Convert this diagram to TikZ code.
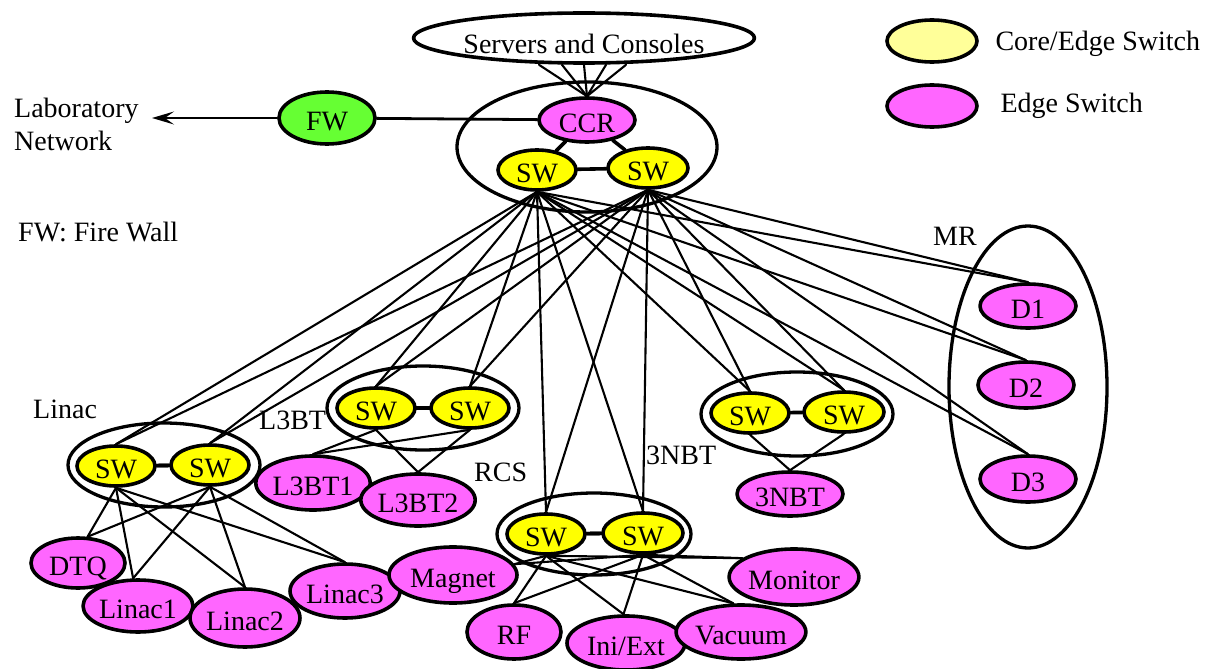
\documentclass[tikz,border=0pt]{standalone}
\usepackage{fontspec}
\setmainfont{Liberation Serif}
\newfontfamily\netfont{Liberation Serif}
\usetikzlibrary{shapes.geometric,arrows.meta}
\definecolor{swyellow}{HTML}{FFFF00}
\definecolor{legyellow}{HTML}{FFFF99}
\definecolor{edgepink}{HTML}{FF66FF}
\definecolor{fwgreen}{HTML}{66FF33}
\tikzset{
  elli/.style={ellipse, draw, line width=3.6pt, inner sep=0pt, text height=25pt, text depth=0pt},
  sw/.style={elli, fill=swyellow, minimum width=78pt, minimum height=40pt},
  pink/.style={elli, fill=edgepink},
  grp/.style={elli, line width=3.3pt},
  link/.style={line width=2.1pt},
  thick link/.style={line width=3.6pt},
}
\begin{document}
\begin{tikzpicture}[x=1pt, y=-1pt, font=\netfont\fontsize{28}{33}\selectfont, line join=round, line cap=round]
  \useasboundingbox (0,0) rectangle (1208,669);
  % legend
  \node[elli, fill=legyellow, minimum width=90pt, minimum height=42pt] (legCore) at (932,41) {};
  \node[pink, minimum width=90pt, minimum height=42pt] (legEdge) at (932,106) {};
  \node[anchor=west] (legCoreTxt) at (992,44) {Core/Edge Switch};
  \node[anchor=west] (legEdgeTxt) at (997,106) {Edge Switch};
  % texts
  \node[anchor=west, align=left, inner sep=0pt] (labnet) at (14,124) {Laboratory\\Network};
  \coordinate (labnetEnd) at (152,118);
  \node[anchor=west, inner sep=0pt] (fwnote) at (18,232) {FW: Fire Wall};
  \node[anchor=west, inner sep=0pt] (linacLbl) at (33,409) {Linac};
  \node[anchor=west, inner sep=0pt] (l3btLbl) at (259,420) {L3BT};
  \node[anchor=west, inner sep=0pt] (rcsLbl) at (474,472) {RCS};
  \node[anchor=west, inner sep=0pt] (nbtLbl) at (646,455) {3NBT};
  \node[anchor=west, inner sep=0pt] (mrLbl) at (933,236) {MR};
  % center
  \node[elli, fill=white, text height=31pt, minimum width=324pt, minimum height=50pt] (servers) at (584,38) {Servers and Consoles};
  \node[grp, minimum width=260pt, minimum height=130pt] (coreGrp) at (587,147) {};
  \node[pink, minimum width=96pt, minimum height=44pt] (ccr) at (587,120) {CCR};
  \node[sw] (coreL) at (537,170) {SW};
  \node[sw, minimum width=80pt] (coreR) at (648,168) {SW};
  \node[elli, fill=fwgreen, minimum width=96pt, minimum height=52pt] (fw) at (327,118) {FW};
  % Linac
  \node[grp, minimum width=192pt, minimum height=84pt] (linacGrp) at (164,465) {};
  \node[sw] (linacA) at (116,466) {SW};
  \node[sw] (linacB) at (210,465) {SW};
  \node[pink, minimum width=94pt, minimum height=50pt] (dto) at (78,563) {DTQ};
  \node[pink, minimum width=108pt, minimum height=52pt] (linacI) at (138,606) {Linac1};
  \node[pink, minimum width=108pt, minimum height=58pt] (linacII) at (245,618) {Linac2};
  \node[pink, minimum width=100pt, minimum height=54pt] (linacIII) at (345,591) {Linac3};
  % L3BT
  \node[grp, minimum width=192pt, minimum height=84pt] (l3btGrp) at (423,408) {};
  \node[sw] (l3btA) at (376,408) {SW};
  \node[sw] (l3btB) at (470,408) {SW};
  \node[pink, minimum width=108pt, minimum height=54pt] (l3btI) at (313,483) {L3BT1};
  \node[pink, minimum width=104pt, minimum height=52pt] (l3btII) at (418,500) {L3BT2};
  % RCS
  \node[grp, minimum width=194pt, minimum height=82pt] (rcsGrp) at (594,534) {};
  \node[sw] (rcsA) at (546,534) {SW};
  \node[sw, minimum width=80pt] (rcsB) at (643,533) {SW};
  \node[pink, minimum width=128pt, minimum height=56pt] (magnet) at (453,575) {Magnet};
  \node[pink, minimum width=94pt, minimum height=54pt] (rf) at (514,632) {RF};
  \node[pink, minimum width=118pt, minimum height=54pt] (iniext) at (626,643) {Ini/Ext};
  \node[pink, minimum width=108pt, minimum height=54pt] (vacuum) at (741,632) {Vacuum};
  \node[pink, minimum width=124pt, minimum height=56pt] (monitor) at (794,577) {Monitor};
  % 3NBT
  \node[grp, minimum width=192pt, minimum height=84pt] (nbtGrp) at (797,414) {};
  \node[sw] (nbtA) at (750,413) {SW};
  \node[sw, minimum width=80pt] (nbtB) at (844,412) {SW};
  \node[pink, minimum width=106pt, minimum height=44pt] (nbt) at (790,494) {3NBT};
  % MR
  \node[grp, minimum width=158pt, minimum height=322pt] (mrGrp) at (1028,387) {};
  \node[pink, minimum width=96pt, minimum height=44pt] (dI) at (1028,306) {D1};
  \node[pink, minimum width=96pt, minimum height=46pt] (dII) at (1026,385) {D2};
  \node[pink, minimum width=96pt, minimum height=46pt] (dIII) at (1028,479) {D3};
  % links
  \foreach \x in {-45,-22,0,22,42}
    \draw[link] ([xshift=\x pt]servers.south) -- (ccr.north);
  \draw[thick link] (ccr) -- (coreL);
  \draw[thick link] (ccr) -- (coreR);
  \draw[thick link] (coreL) -- (coreR);
  \draw[line width=2.8pt] (fw) -- (ccr);
  \draw[line width=1.6pt, -{Stealth[length=22pt, width=13pt, inset=9pt]}] (fw.west) -- (labnetEnd);
  \foreach \c in {coreL,coreR}{
    \foreach \t in {linacA,linacB,l3btA,l3btB,rcsA,rcsB,nbtA,nbtB,dI,dII,dIII}
      \draw[link] (\c.south) -- (\t.north);
  }
  \foreach \s in {linacA,linacB}{
    \draw[thick link] (linacA) -- (linacB);
    \foreach \t in {dto.70,linacI.100,linacII.north,linacIII.north}
      \draw[link] (\s.south) -- (\t);
  }
  \foreach \s in {l3btA,l3btB}{
    \draw[thick link] (l3btA) -- (l3btB);
    \foreach \t in {l3btI.north,l3btII.north}
      \draw[link] (\s.south) -- (\t);
  }
  \foreach \s in {rcsA,rcsB}{
    \draw[thick link] (rcsA) -- (rcsB);
    \foreach \t in {magnet.10,rf.north,iniext.95,vacuum.105,monitor.160}
      \draw[link] (\s.south) -- (\t);
  }
  \draw[thick link] (nbtA) -- (nbtB);
  \foreach \s in {nbtA,nbtB}
    \draw[link] (\s.south) -- (nbt.north);
\end{tikzpicture}
\end{document}
